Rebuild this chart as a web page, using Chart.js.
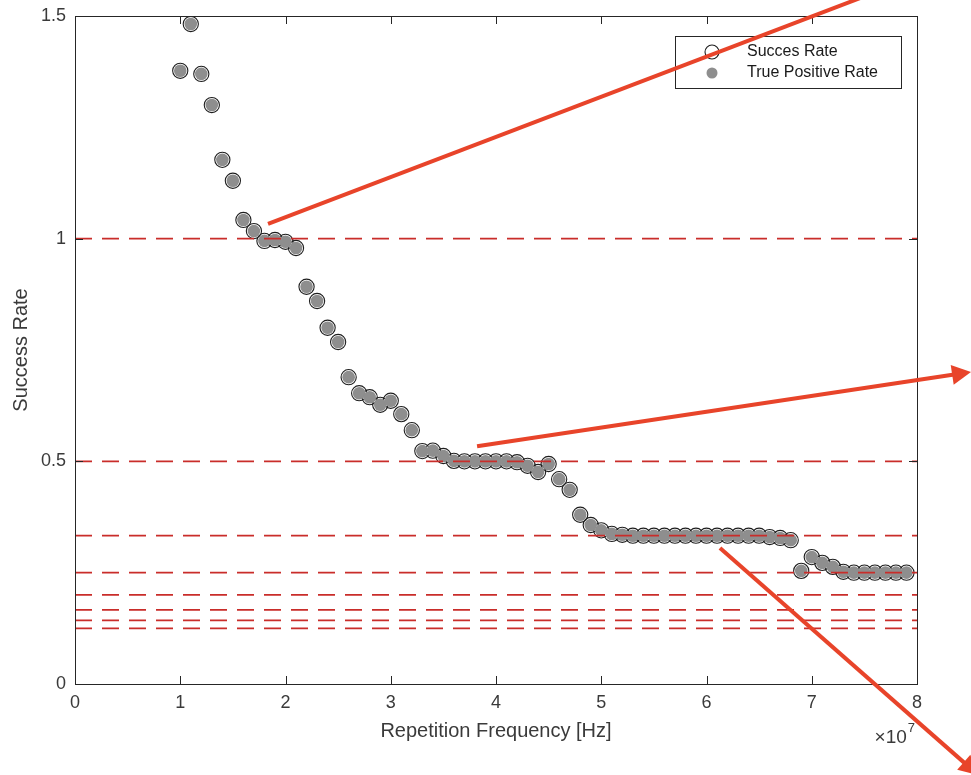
<!DOCTYPE html>
<html>
<head>
<meta charset="utf-8">
<title>Success Rate vs Repetition Frequency</title>
<script src="https://cdn.jsdelivr.net/npm/chart.js@4/dist/chart.umd.min.js"></script>
<style>
  html, body { margin: 0; padding: 0; background: #ffffff; }
  #wrap { width: 971px; height: 775px; }
</style>
</head>
<body>
<div id="wrap"><canvas id="chart" width="971" height="775"></canvas></div>
<script>
// Repetition frequency of each measurement (Hz)
const frequencyHz = [
  1.0e7, 1.1e7, 1.2e7, 1.3e7, 1.4e7, 1.5e7, 1.6e7, 1.7e7, 1.8e7, 1.9e7,
  2.0e7, 2.1e7, 2.2e7, 2.3e7, 2.4e7, 2.5e7, 2.6e7, 2.7e7, 2.8e7, 2.9e7,
  3.0e7, 3.1e7, 3.2e7, 3.3e7, 3.4e7, 3.5e7, 3.6e7, 3.7e7, 3.8e7, 3.9e7,
  4.0e7, 4.1e7, 4.2e7, 4.3e7, 4.4e7, 4.5e7, 4.6e7, 4.7e7, 4.8e7, 4.9e7,
  5.0e7, 5.1e7, 5.2e7, 5.3e7, 5.4e7, 5.5e7, 5.6e7, 5.7e7, 5.8e7, 5.9e7,
  6.0e7, 6.1e7, 6.2e7, 6.3e7, 6.4e7, 6.5e7, 6.6e7, 6.7e7, 6.8e7, 6.9e7,
  7.0e7, 7.1e7, 7.2e7, 7.3e7, 7.4e7, 7.5e7, 7.6e7, 7.7e7, 7.8e7, 7.9e7
];

// Measured success rate at each frequency
const successRate = [
  1.377, 1.482, 1.370, 1.300, 1.177, 1.130, 1.042, 1.017, 0.995, 0.997,
  0.993, 0.979, 0.892, 0.860, 0.800, 0.768, 0.689, 0.653, 0.644, 0.627,
  0.636, 0.606, 0.570, 0.523, 0.524, 0.512, 0.501, 0.500, 0.500, 0.500,
  0.500, 0.500, 0.498, 0.490, 0.476, 0.494, 0.460, 0.436, 0.380, 0.357,
  0.345, 0.337, 0.335, 0.333, 0.333, 0.333, 0.333, 0.333, 0.333, 0.333,
  0.333, 0.333, 0.333, 0.333, 0.333, 0.333, 0.330, 0.328, 0.323, 0.254,
  0.285, 0.272, 0.263, 0.252, 0.250, 0.250, 0.250, 0.250, 0.250, 0.250
];

// True positive rate coincides with the success rate here
const truePositiveRate = [
  1.377, 1.482, 1.370, 1.300, 1.177, 1.130, 1.042, 1.017, 0.995, 0.997,
  0.993, 0.979, 0.892, 0.860, 0.800, 0.768, 0.689, 0.653, 0.644, 0.627,
  0.636, 0.606, 0.570, 0.523, 0.524, 0.512, 0.501, 0.500, 0.500, 0.500,
  0.500, 0.500, 0.498, 0.490, 0.476, 0.494, 0.460, 0.436, 0.380, 0.357,
  0.345, 0.337, 0.335, 0.333, 0.333, 0.333, 0.333, 0.333, 0.333, 0.333,
  0.333, 0.333, 0.333, 0.333, 0.333, 0.333, 0.330, 0.328, 0.323, 0.254,
  0.285, 0.272, 0.263, 0.252, 0.250, 0.250, 0.250, 0.250, 0.250, 0.250
];

// Horizontal reference levels 1/n
const referenceLevels = [1, 1/2, 1/3, 1/4, 1/5, 1/6, 1/7, 1/8];

// Axis ranges and tick steps
const xRange = [0, 8e7];
const xStep = 1e7;
const yRange = [0, 1.5];
const yStep = 0.5;

// Annotation arrows in data units: [fromX, fromY, toX, toY]
const arrowLines = [
  [1.834e7, 1.033, 8.41e7, 1.626],
  [3.82e7, 0.534, 8.513e7, 0.7006],
  [6.128e7, 0.3054, 8.58e7, -0.204]
];

const axisColor = '#262626';
const textColor = '#3a3a3a';
const fontFamily = 'Liberation Sans, Arial, Helvetica, sans-serif';

const toPoints = (xs, ys) => xs.map((x, i) => ({ x: x, y: ys[i] }));

const referenceDatasets = referenceLevels.map(level => ({
  label: 'ref',
  data: [{ x: xRange[0], y: level }, { x: xRange[1], y: level }],
  showLine: true,
  borderColor: '#c92d2a',
  borderWidth: 1.8,
  borderDash: [17, 10],
  pointRadius: 0,
  fill: false
}));

const tprDataset = {
  label: 'True Positive Rate',
  data: toPoints(frequencyHz, truePositiveRate),
  pointRadius: 6.3,
  pointBackgroundColor: '#8e8e8e',
  pointBorderWidth: 0,
  pointBorderColor: 'rgba(0,0,0,0)',
  showLine: false
};

const successDataset = {
  label: 'Succes Rate',
  data: toPoints(frequencyHz, successRate),
  pointRadius: 7.6,
  pointBackgroundColor: 'rgba(255,255,255,0)',
  pointBorderColor: '#1e1e1e',
  pointBorderWidth: 1.1,
  showLine: false
};

// Box around the axes with inward tick marks on all four sides
const axesFrame = {
  id: 'axesFrame',
  afterDatasetsDraw(chart) {
    const { ctx, chartArea: a, scales } = chart;
    const tl = 8;
    ctx.save();
    ctx.strokeStyle = axisColor;
    ctx.lineWidth = 1;
    ctx.strokeRect(a.left + 0.5, a.top + 0.5, a.right - a.left, a.bottom - a.top);
    ctx.beginPath();
    scales.x.ticks.forEach(t => {
      const px = Math.round(scales.x.getPixelForValue(t.value)) + 0.5;
      ctx.moveTo(px, a.bottom); ctx.lineTo(px, a.bottom - tl);
      ctx.moveTo(px, a.top); ctx.lineTo(px, a.top + tl);
    });
    scales.y.ticks.forEach(t => {
      const py = Math.round(scales.y.getPixelForValue(t.value)) + 0.5;
      ctx.moveTo(a.left, py); ctx.lineTo(a.left + tl, py);
      ctx.moveTo(a.right, py); ctx.lineTo(a.right - tl, py);
    });
    ctx.stroke();

    // exponent label for the x axis
    ctx.fillStyle = textColor;
    ctx.textBaseline = 'alphabetic';
    ctx.textAlign = 'right';
    ctx.font = '13px ' + fontFamily;
    const expW = ctx.measureText('7').width;
    ctx.fillText('7', a.right - 2, 732);
    ctx.font = '19px ' + fontFamily;
    ctx.fillText('\u00d710', a.right - expW - 3, 743);
    ctx.restore();
  }
};

// Legend box drawn inside the upper right of the axes
const insetLegend = {
  id: 'insetLegend',
  afterDatasetsDraw(chart) {
    const { ctx, chartArea: a } = chart;
    const right = a.right - 16;
    const top = a.top + 20;
    const w = 226, h = 52;
    const left = right - w;
    ctx.save();
    ctx.fillStyle = '#ffffff';
    ctx.fillRect(left, top, w, h);
    ctx.strokeStyle = axisColor;
    ctx.lineWidth = 1;
    ctx.strokeRect(left + 0.5, top + 0.5, w, h);

    const mx = left + 37;
    const tx = left + 72;
    const y1 = top + 16, y2 = top + 37;
    ctx.beginPath();
    ctx.arc(mx, y1, 7, 0, Math.PI * 2);
    ctx.strokeStyle = '#1e1e1e';
    ctx.lineWidth = 1.1;
    ctx.stroke();
    ctx.beginPath();
    ctx.arc(mx, y2, 5.5, 0, Math.PI * 2);
    ctx.fillStyle = '#8e8e8e';
    ctx.fill();

    ctx.fillStyle = '#1a1a1a';
    ctx.font = '16px ' + fontFamily;
    ctx.textAlign = 'left';
    ctx.textBaseline = 'middle';
    ctx.fillText(successDataset.label, tx, y1);
    ctx.fillText(tprDataset.label, tx, y2);
    ctx.restore();
  }
};

// Red annotation arrows, placed through the chart's scales
const arrowOverlay = {
  id: 'arrowOverlay',
  afterDraw(chart) {
    const { ctx, scales } = chart;
    const color = '#e8442a';
    const headLen = 19, headHalf = 10;
    ctx.save();
    ctx.strokeStyle = color;
    ctx.fillStyle = color;
    ctx.lineWidth = 4;
    ctx.lineCap = 'butt';
    arrowLines.forEach(([x0, y0, x1, y1]) => {
      const ax = scales.x.getPixelForValue(x0), ay = scales.y.getPixelForValue(y0);
      const bx = scales.x.getPixelForValue(x1), by = scales.y.getPixelForValue(y1);
      const len = Math.hypot(bx - ax, by - ay);
      const ux = (bx - ax) / len, uy = (by - ay) / len;
      const baseX = bx - ux * headLen, baseY = by - uy * headLen;
      ctx.beginPath();
      ctx.moveTo(ax, ay);
      ctx.lineTo(baseX + ux * 2, baseY + uy * 2);
      ctx.stroke();
      ctx.beginPath();
      ctx.moveTo(bx, by);
      ctx.lineTo(baseX - uy * headHalf, baseY + ux * headHalf);
      ctx.lineTo(baseX + uy * headHalf, baseY - ux * headHalf);
      ctx.closePath();
      ctx.fill();
    });
    ctx.restore();
  }
};

new Chart(document.getElementById('chart'), {
  type: 'scatter',
  data: {
    datasets: [...referenceDatasets, tprDataset, successDataset]
  },
  options: {
    responsive: false,
    animation: false,
    devicePixelRatio: 1,
    layout: { padding: { top: 16, right: 54, left: 0, bottom: 0 } },
    plugins: {
      legend: { display: false },
      tooltip: { enabled: false }
    },
    scales: {
      x: {
        type: 'linear',
        min: xRange[0],
        max: xRange[1],
        grid: { display: false, drawTicks: false },
        border: { display: false },
        ticks: {
          stepSize: xStep,
          padding: 8,
          color: textColor,
          font: { family: fontFamily, size: 18 },
          maxRotation: 0,
          callback: v => String(v / xStep)
        },
        title: {
          display: true,
          text: 'Repetition Frequency [Hz]',
          color: textColor,
          font: { family: fontFamily, size: 20 },
          padding: { top: 0, bottom: 32 }
        },
        afterFit: s => { s.height = 91; s.paddingLeft = 0; s.paddingRight = 0; }
      },
      y: {
        type: 'linear',
        min: yRange[0],
        max: yRange[1],
        grid: { display: false, drawTicks: false },
        border: { display: false },
        ticks: {
          stepSize: yStep,
          padding: 9,
          color: textColor,
          font: { family: fontFamily, size: 18 },
          callback: v => String(v)
        },
        title: {
          display: true,
          text: 'Success Rate',
          color: textColor,
          font: { family: fontFamily, size: 20 },
          padding: { top: 9, bottom: 0 }
        },
        afterFit: s => { s.width = 75; s.paddingTop = 0; s.paddingBottom = 0; }
      }
    }
  },
  plugins: [axesFrame, insetLegend, arrowOverlay]
});
</script>
</body>
</html>
